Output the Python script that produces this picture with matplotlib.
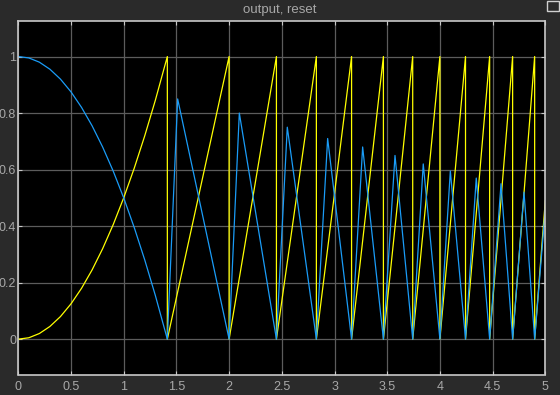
import matplotlib.pyplot as plt
from matplotlib.patches import Rectangle

# valores (canal 1 = amarelo, canal 2 = azul)
tempo_amarelo = [0, 0.1, 0.2, 0.3, 0.4, 0.5, 0.6, 0.7, 0.8, 0.9, 1.0, 1.1, 1.2, 1.3, 1.414,
                 1.414, 2.0, 2.0, 2.449, 2.449, 2.828, 2.828, 3.162, 3.162, 3.464, 3.464,
                 3.742, 3.742, 4.0, 4.0, 4.243, 4.243, 4.472, 4.472, 4.690, 4.690,
                 4.899, 4.899, 5.0]
valor_amarelo = [0, 0.005, 0.02, 0.045, 0.08, 0.125, 0.18, 0.245, 0.32, 0.405, 0.5, 0.605,
                 0.72, 0.845, 1.0,
                 0, 1, 0, 1, 0, 1, 0, 1, 0, 1, 0,
                 1, 0, 1, 0, 1, 0, 1, 0, 1, 0,
                 1, 0, 0.49]

tempo_azul = [0, 0.1, 0.2, 0.3, 0.4, 0.5, 0.6, 0.7, 0.8, 0.9, 1.0, 1.1, 1.2, 1.3, 1.414,
              1.512, 2.0, 2.097, 2.449, 2.552, 2.828, 2.935, 3.162, 3.267, 3.464, 3.574,
              3.742, 3.842, 4.0, 4.099, 4.243, 4.345, 4.472, 4.580, 4.690, 4.798,
              4.899, 5.0]
valor_azul = [1, 0.995, 0.98, 0.955, 0.92, 0.875, 0.82, 0.755, 0.68, 0.595, 0.5, 0.395,
              0.28, 0.155, 0.0,
              0.85, 0.0, 0.80, 0.0, 0.75, 0.0, 0.71, 0.0, 0.68, 0.0, 0.65,
              0.0, 0.62, 0.0, 0.595, 0.0, 0.57, 0.0, 0.55, 0.0, 0.52,
              0.0, 0.46]

xticks = [0, 0.5, 1, 1.5, 2, 2.5, 3, 3.5, 4, 4.5, 5]
xlabels = ['0', '0.5', '1', '1.5', '2', '2.5', '3', '3.5', '4', '4.5', '5']
yticks = [0, 0.2, 0.4, 0.6, 0.8, 1]
ylabels = ['0', '0.2', '0.4', '0.6', '0.8', '1']

fundo = '#2a2a2a'
texto = '#a8a8a8'
plt.rcParams['font.family'] = ['Liberation Sans', 'DejaVu Sans']

fig = plt.figure(figsize=(5.6, 3.95), dpi=100, facecolor=fundo)
ax = fig.add_axes([18.3 / 560, 1 - 374.5 / 395, 527 / 560, 353.3 / 395])
ax.set_facecolor('black')

ax.plot(tempo_amarelo, valor_amarelo, color='#ffff00', lw=0.9)
ax.plot(tempo_azul, valor_azul, color='#1a9cf7', lw=0.9)

ax.set_xlim(0, 5)
ax.set_ylim(-0.125, 1.125)
ax.set_xticks(xticks)
ax.set_xticklabels(xlabels)
ax.set_yticks(yticks)
ax.set_yticklabels(ylabels)
ax.grid(True, color='#5c5c5c', lw=0.9)
ax.set_axisbelow(True)

ax.tick_params(axis='both', direction='in', colors='#c8c8c8', labelcolor=texto,
               labelsize=9, length=3, top=True, right=True)
ax.tick_params(axis='x', pad=5)
ax.tick_params(axis='y', pad=1.5)
for lado in ax.spines.values():
    lado.set_color('#c8c8c8')
    lado.set_linewidth(1.2)

fig.text(0.5, 1 - 10 / 395, 'output, reset', color=texto, fontsize=9.5,
         ha='center', va='center')

# icone no canto superior direito
fig.patches.append(Rectangle((547 / 560, 1 - 11 / 395), 12 / 560, 10 / 395,
                             transform=fig.transFigure, fill=False,
                             edgecolor='#d0d0d0', lw=1))

fig.savefig('out.png', dpi=100, facecolor=fundo)
